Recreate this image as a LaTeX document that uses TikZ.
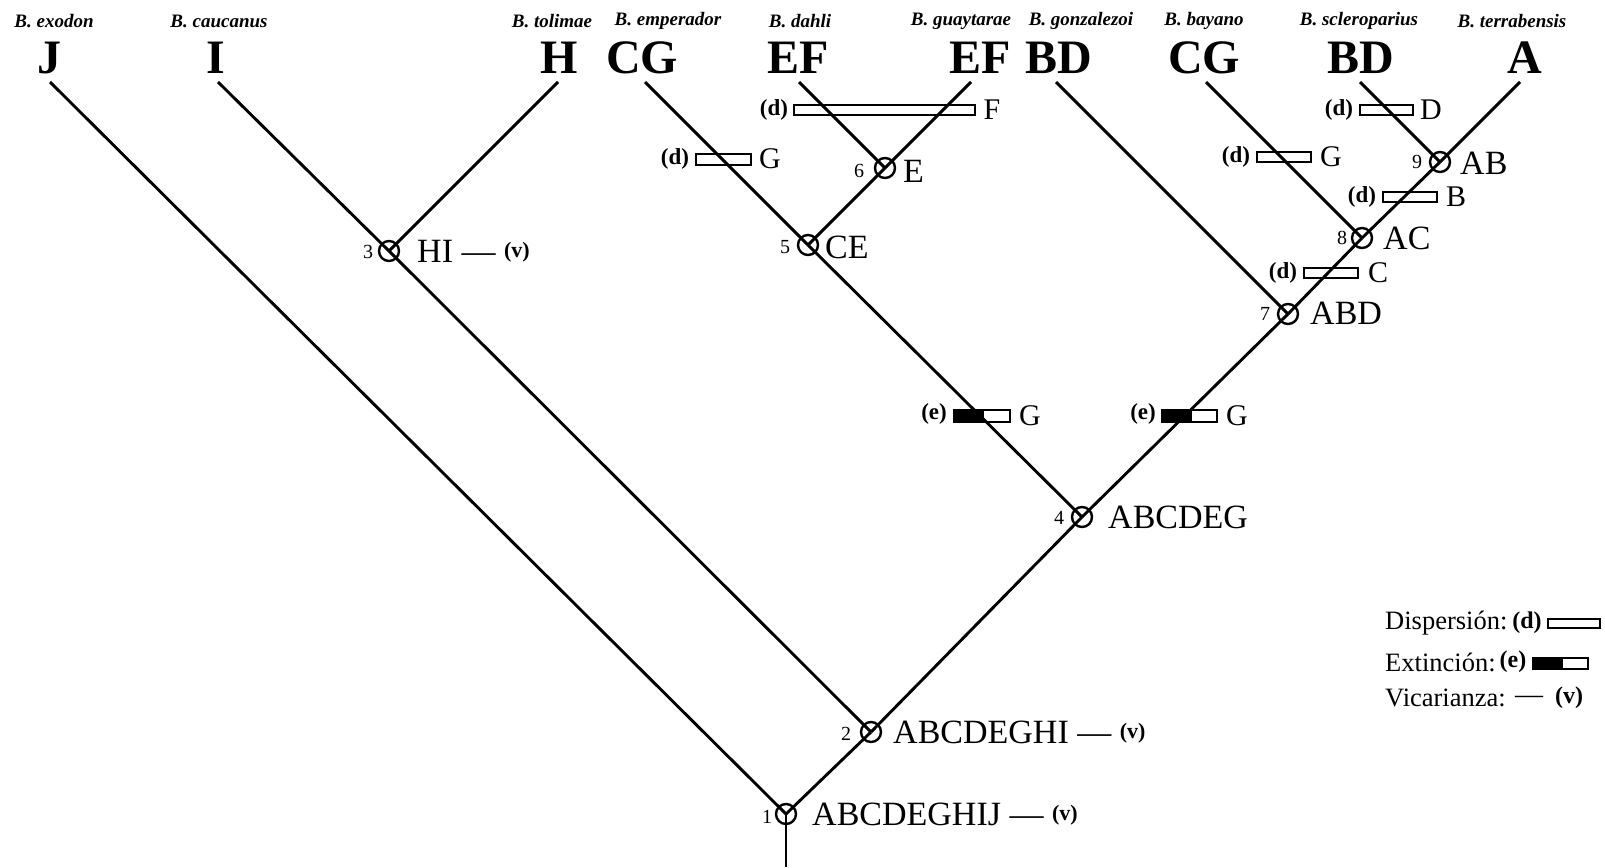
\documentclass[tikz,border=0pt]{standalone}
\usepackage{fontspec}
\setmainfont{Liberation Serif}
\newcommand{\myV}{\raisebox{5pt}{\bfseries\fontsize{22}{24}\selectfont(v)}}
\begin{document}
\begin{tikzpicture}[x=1pt,y=-1pt,
  br/.style={line width=2.9pt},
  junc/.style={circle,draw,line width=2.4pt,minimum size=20pt,inner sep=0pt},
  big/.style={font=\bfseries\fontsize{48}{50}\selectfont,inner sep=0pt},
  sp/.style={font=\bfseries\itshape\fontsize{19}{20}\selectfont,inner sep=0pt},
  lab/.style={font=\fontsize{34}{36}\selectfont,anchor=west,inner sep=0pt},
  blab/.style={font=\fontsize{30}{32}\selectfont,inner sep=0pt},
  num/.style={font=\fontsize{20}{22}\selectfont,inner sep=0pt},
  ev/.style={font=\bfseries\fontsize{23}{25}\selectfont,inner sep=0pt},
  lev/.style={font=\bfseries\fontsize{24}{26}\selectfont,inner sep=0pt},
  dbar/.style={draw,fill=white,line width=2.4pt},
  ebar/.style={draw,fill=black,line width=2.4pt},
  leg/.style={font=\fontsize{26.5}{28}\selectfont,anchor=west,inner sep=0pt}]
\useasboundingbox (0,0) rectangle (1605,867);

% species names
\node[sp] (s1) at (54,21) {B. exodon};
\node[sp] (s2) at (219,21) {B. caucanus};
\node[sp] (s3) at (552,21) {B. tolimae};
\node[sp] (s4) at (668,21) {B. emperador};
\node[sp] (s5) at (800,21) {B. dahli};
\node[sp] (s6) at (961,21) {B. guaytarae};
\node[sp] (s7) at (1081,21) {B. gonzalezoi};
\node[sp] (s8) at (1204,21) {B. bayano};
\node[sp] (s9) at (1359,21) {B. scleroparius};
\node[sp] (s10) at (1512,21) {B. terrabensis};

% area letters
\node[big] (a1) at (49,58) {J};
\node[big] (a2) at (216,58) {I};
\node[big] (a3) at (559,58) {H};
\node[big] (a4) at (642,58) {CG};
\node[big] (a5) at (798,58) {EF};
\node[big] (a6) at (980,58) {EF};
\node[big] (a7) at (1059,58) {BD};
\node[big] (a8) at (1204,58) {CG};
\node[big] (a9) at (1361,58) {BD};
\node[big] (a10) at (1525,58) {A};

% tips
\coordinate (tJ) at (50,82);
\coordinate (tI) at (218,82);
\coordinate (tH) at (558,82);
\coordinate (tCGa) at (645,82);
\coordinate (tEFa) at (799,82);
\coordinate (tEFb) at (971,82);
\coordinate (tBDa) at (1056,82);
\coordinate (tCGb) at (1206,82);
\coordinate (tBDb) at (1360,82);
\coordinate (tA) at (1520,82);
\coordinate (root) at (786,867);

% bars (under the lines)
\draw[dbar] (794,105) rectangle (975,115);
\draw[dbar] (696,154) rectangle (751,165);
\draw[dbar] (1360,105) rectangle (1413,115);
\draw[dbar] (1257,152) rectangle (1311,162);
\draw[dbar] (1383,192) rectangle (1437,202);
\draw[dbar] (1304,268) rectangle (1358,278);
\draw[dbar] (954,410) rectangle (1010,422);
\draw[ebar] (954,410) rectangle (983,422);
\draw[dbar] (1162,410) rectangle (1217,422);
\draw[ebar] (1162,410) rectangle (1191,422);

% junctions
\node[junc] (n1) at (786,814) {};
\node[junc] (n2) at (871,732) {};
\node[junc] (n3) at (389,251) {};
\node[junc] (n4) at (1082,517) {};
\node[junc] (n5) at (808,245) {};
\node[junc] (n6) at (885,168) {};
\node[junc] (n7) at (1288,314) {};
\node[junc] (n8) at (1362,238) {};
\node[junc] (n9) at (1440,162) {};

% branches
\draw[br] (n1.center) -- (root);
\draw[br] (n1.center) -- (tJ);
\draw[br] (n1.center) -- (n2.center);
\draw[br] (n2.center) -- (n3.center);
\draw[br] (n3.center) -- (tI);
\draw[br] (n3.center) -- (tH);
\draw[br] (n2.center) -- (n4.center);
\draw[br] (n4.center) -- (n5.center);
\draw[br] (n5.center) -- (tCGa);
\draw[br] (n5.center) -- (n6.center);
\draw[br] (n6.center) -- (tEFa);
\draw[br] (n6.center) -- (tEFb);
\draw[br] (n4.center) -- (n7.center);
\draw[br] (n7.center) -- (tBDa);
\draw[br] (n7.center) -- (n8.center);
\draw[br] (n8.center) -- (tCGb);
\draw[br] (n8.center) -- (n9.center);
\draw[br] (n9.center) -- (tBDb);
\draw[br] (n9.center) -- (tA);

% node numbers
\node[num] (k1) at (767,817) {1};
\node[num] (k2) at (846,734) {2};
\node[num] (k3) at (368,252) {3};
\node[num] (k4) at (1059,518) {4};
\node[num] (k5) at (785,247) {5};
\node[num] (k6) at (859,171) {6};
\node[num] (k7) at (1265,314) {7};
\node[num] (k8) at (1342,238) {8};
\node[num] (k9) at (1417,162) {9};

% node labels
\node[lab] (l1) at (812,814) {ABCDEGHIJ — \myV};
\node[lab] (l2) at (893,732) {ABCDEGHI — \myV};
\node[lab] (l3) at (417,251) {HI — \myV};
\node[lab] (l4) at (1108,517) {ABCDEG};
\node[lab] (l5) at (825,247) {CE};
\node[lab] (l6) at (903,171) {E};
\node[lab] (l7) at (1310,313) {ABD};
\node[lab] (l8) at (1383,238) {AC};
\node[lab] (l9) at (1460,163) {AB};

% event labels
\node[ev] (d1) at (774,110) {(d)};
\node[blab] (b1) at (992,110) {F};
\node[ev] (d2) at (675,159) {(d)};
\node[blab] (b2) at (770,159) {G};
\node[ev] (d3) at (1339,110) {(d)};
\node[blab] (b3) at (1431,110) {D};
\node[ev] (d4) at (1236,157) {(d)};
\node[blab] (b4) at (1331,157) {G};
\node[ev] (d5) at (1362,197) {(d)};
\node[blab] (b5) at (1456,197) {B};
\node[ev] (d6) at (1283,273) {(d)};
\node[blab] (b6) at (1378,273) {C};
\node[ev] (e1) at (934,414) {(e)};
\node[blab] (b7) at (1030,416) {G};
\node[ev] (e2) at (1143,414) {(e)};
\node[blab] (b8) at (1237,416) {G};

% legend
\node[leg] (g1) at (1385,623) {Dispersión:};
\node[lev] (g1e) at (1527,623) {(d)};
\draw[dbar] (1548,619) rectangle (1600,628);
\node[leg] (g2) at (1385,662) {Extinción:};
\node[lev] (g2e) at (1513,662) {(e)};
\draw[dbar] (1533,658) rectangle (1588,669);
\draw[ebar] (1533,658) rectangle (1562,669);
\node[leg] (g3) at (1385,698) {Vicarianza:};
\node[leg] (g3e) at (1515,698) {{\fontsize{28}{30}\selectfont —}\hspace{12pt}{\bfseries\fontsize{24}{26}\selectfont(v)}};
\end{tikzpicture}
\end{document}
